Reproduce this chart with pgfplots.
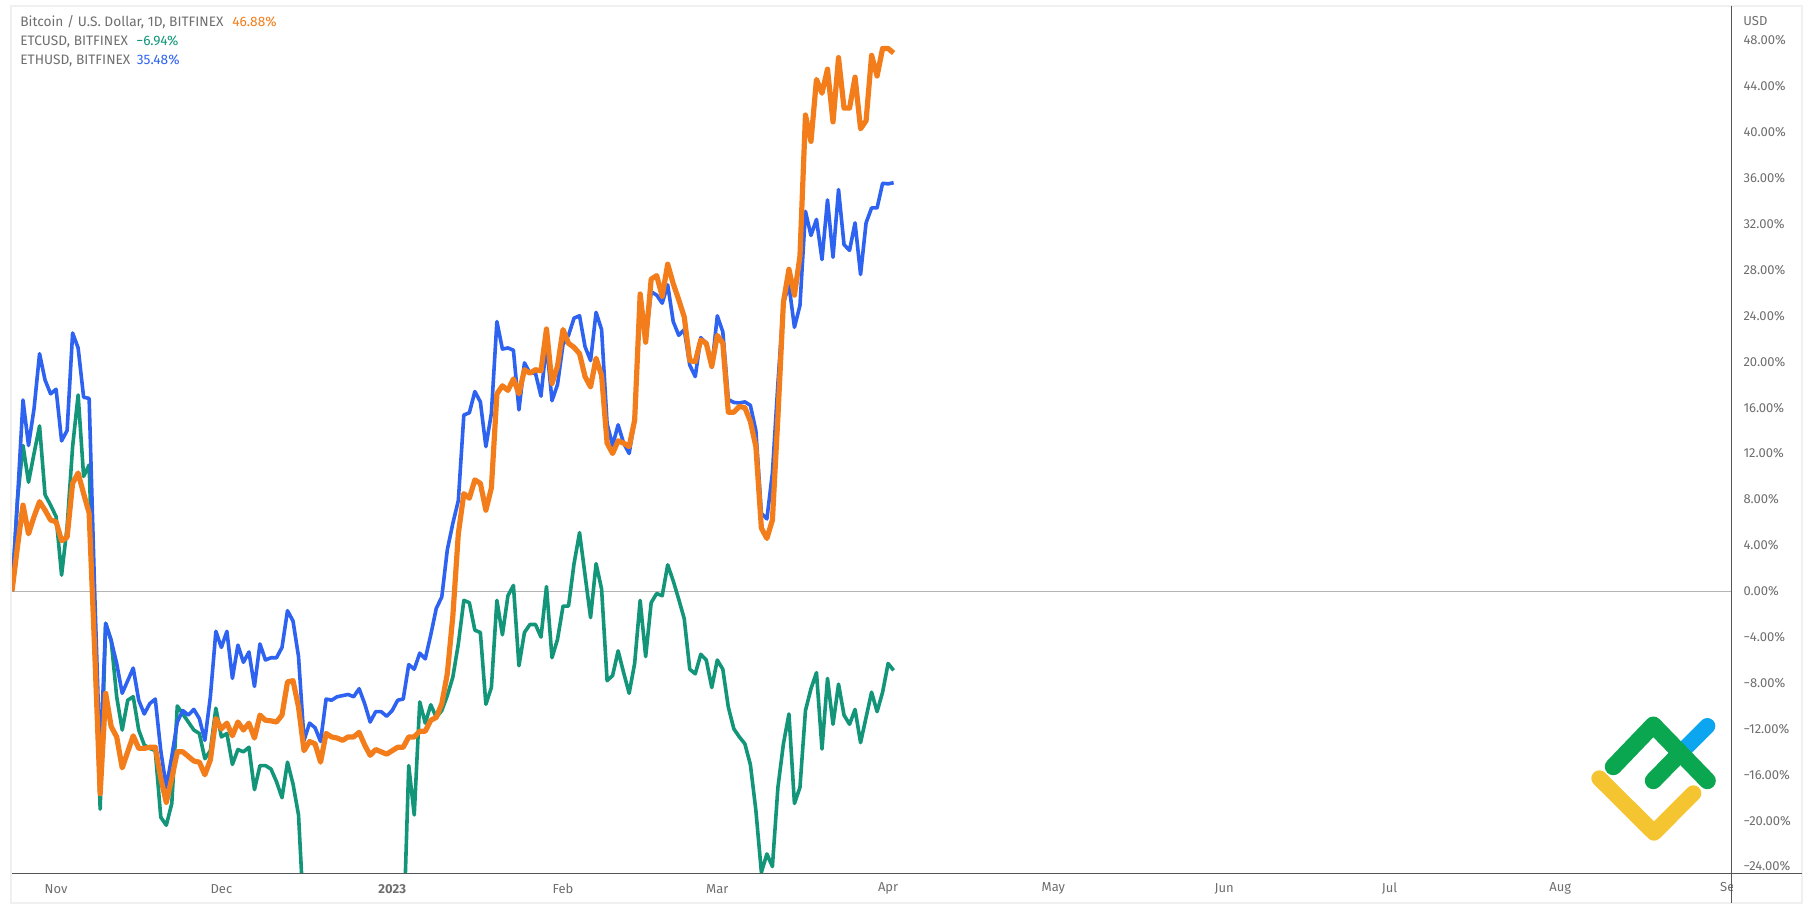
\documentclass[border=0pt]{standalone}
\usepackage{fontspec}
\setmainfont{Fira Sans}
\usepackage{pgfplots}
\usepackage{pgfplotstable}
\pgfplotsset{compat=1.18}
\definecolor{cbtc}{HTML}{F27D1A}
\definecolor{cetc}{HTML}{129579}
\definecolor{ceth}{HTML}{2E62F0}
\definecolor{ctxt}{HTML}{6E6E6E}
\definecolor{cframe}{HTML}{F0F0F0}
\definecolor{caxis}{HTML}{555555}
\definecolor{czero}{HTML}{B4B4B4}
\definecolor{lgy}{HTML}{F5C431}
\definecolor{lgg}{HTML}{0BA650}
\definecolor{lgb}{HTML}{0BA5F0}
\pgfplotstableread{
i btc etc eth
0 0 0 0
1 3.9 8 8
2 7.5 12.7 16.66
3 5.0 9.5 12.7
4 6.5 12.0 15.9
5 7.8 14.4 20.7
6 7.06 8.4 18.4
7 6.2 7.5 17.2
8 6.05 6.5 17.6
9 4.4 1.4 13.1
10 4.7 5.6 14.0
11 9.4 12.6 22.5
12 10.3 17.1 21.2
13 8.5 10.0 16.9
14 6.8 11.0 16.8
15 -5.1 -4.0 0
16 -17.65 -19.0 -15
17 -8.9 -2.8 -2.8
18 -11.8 -4.3 -4.3
19 -12.7 -9.2 -6.3
20 -15.4 -12.1 -8.9
21 -14.0 -9.5 -7.8
22 -12.6 -9.2 -6.7
23 -13.7 -12.1 -9.5
24 -13.7 -13.4 -10.7
25 -13.6 -13.7 -9.8
26 -13.6 -13.9 -9.4
27 -16.3 -19.7 -13.9
28 -18.4 -20.4 -17.1
29 -16.3 -18.5 -14.4
30 -14.0 -10.0 -11.4
31 -14.0 -10.7 -10.4
32 -14.4 -11.4 -10.8
33 -14.8 -12.1 -10.3
34 -14.9 -12.4 -11.1
35 -16.0 -14.6 -13.0
36 -14.7 -13.9 -9.2
37 -11.1 -10.2 -3.5
38 -12.0 -12.7 -4.9
39 -11.5 -12.4 -3.5
40 -12.6 -15.1 -7.6
41 -11.4 -13.8 -4.7
42 -12.1 -14.0 -6.2
43 -11.5 -13.6 -5.3
44 -12.8 -17.3 -8.3
45 -10.8 -15.2 -4.6
46 -11.25 -15.2 -6.0
47 -11.3 -15.5 -5.8
48 -11.4 -16.6 -5.8
49 -10.8 -18.0 -4.9
50 -7.9 -14.9 -1.7
51 -7.8 -16.8 -2.6
52 -10.1 -19.5 -5.7
53 -13.9 -28.8 -13.0
54 -13.1 -30 -11.5
55 -13.3 -30 -11.9
56 -14.9 -30 -13.1
57 -12.4 -30 -9.4
58 -12.7 -30 -9.5
59 -12.8 -30 -9.2
60 -13.0 -30 -9.1
61 -12.7 -30 -9.0
62 -12.7 -30 -9.2
63 -12.3 -30 -8.5
64 -13.4 -30 -9.8
65 -14.3 -30 -11.4
66 -13.8 -30 -10.5
67 -14.0 -30 -10.5
68 -14.2 -30 -10.9
69 -13.9 -30 -10.4
70 -13.6 -30 -9.5
71 -13.6 -30.7 -9.4
72 -12.7 -15.2 -6.4
73 -12.7 -19.5 -6.8
74 -12.2 -9.65 -5.4
75 -12.2 -11.5 -5.9
76 -11.25 -9.9 -3.8
77 -11.0 -11.0 -1.5
78 -9.8 -10.4 -0.5
79 -7.2 -9.1 3.6
80 -2.2 -7.5 5.9
81 5.0 -4.6 7.9
82 8.5 -0.8 15.35
83 8.1 -1.0 15.55
84 9.7 -3.4 17.4
85 9.4 -3.6 16.5
86 7.06 -9.85 12.6
87 9.0 -8.4 15.5
88 17.2 -0.8 23.5
89 17.9 -3.8 21.1
90 17.5 -0.4 21.2
91 18.5 0.5 21.0
92 17.2 -6.5 15.8
93 19.3 -3.6 19.9
94 19.0 -2.9 19.0
95 19.3 -2.9 19.0
96 19.2 -4.0 17.0
97 22.85 0.4 21.6
98 18.1 -5.8 16.6
99 19.6 -4.2 18.0
100 22.8 -1.3 21.5
101 21.6 -1.3 22.3
102 21.25 2.4 23.8
103 20.7 5.1 24.0
104 18.7 1.4 21.3
105 17.8 -2.3 20.1
106 20.3 2.4 24.3
107 18.8 0.2 22.8
108 12.9 -7.8 14.6
109 12.0 -7.35 12.7
110 13.1 -5.2 14.5
111 12.9 -7.1 12.9
112 12.6 -8.9 12.0
113 14.9 -6.3 14.9
114 25.9 -0.8 25.7
115 21.7 -5.7 21.9
116 27.2 -1.0 26.1
117 27.5 -0.2 25.8
118 25.7 -0.4 25.1
119 28.5 2.3 26.7
120 26.8 0.9 23.5
121 25.4 -0.7 22.3
122 23.9 -2.4 22.8
123 20.1 -6.8 19.7
124 20.0 -7.2 18.7
125 21.9 -5.5 22.1
126 21.6 -6.0 21.6
127 19.6 -8.4 19.5
128 22.3 -6.0 24.0
129 21.6 -6.8 22.6
130 15.6 -10.1 16.7
131 15.6 -12.0 16.45
132 16.1 -12.7 16.4
133 16.0 -13.3 16.5
134 14.8 -15.1 16.2
135 12.6 -19.1 14.0
136 5.5 -24.5 6.8
137 4.6 -22.9 6.3
138 6.2 -24.0 10.3
139 15.2 -17.1 18.1
140 25.2 -13.3 25.1
141 28.05 -10.7 26.7
142 25.8 -18.5 23.0
143 29.2 -17.1 24.9
144 41.5 -10.4 33.1
145 39.2 -8.5 31.0
146 44.6 -7.1 32.4
147 43.4 -13.75 28.9
148 45.5 -7.6 34.1
149 40.9 -11.6 29.1
150 46.5 -8.1 35.0
151 42.1 -10.8 30.2
152 42.1 -11.6 29.7
153 44.8 -10.3 32.1
154 40.3 -13.2 27.6
155 41.0 -11.0 32.1
156 46.7 -8.8 33.4
157 44.9 -10.5 33.4
158 47.3 -8.8 35.55
159 47.3 -6.3 35.5
160 46.9 -6.9 35.6
}\data
\newcommand{\tfont}{\fontsize{6.5pt}{7.5pt}\selectfont}
\newcommand{\lfont}{\fontsize{6.85pt}{8pt}\selectfont}
\begin{document}
\begin{tikzpicture}
\useasboundingbox (0,0) rectangle (906.5pt,455pt);
\begin{axis}[
  at={(6pt,18.5pt)}, anchor=south west,
  scale only axis, width=859.85pt, height=433.5pt,
  xmin=0, xmax=312.1, ymin=-24.56, ymax=51,
  axis line style={draw=none},
  tick style={draw=none},
  xtick={8,38,69,100,128,159,189,220,250,281,312},
  xticklabels={Nov,Dec,\textbf{2023},Feb,Mar,Apr,May,Jun,Jul,Aug,Sep},
  ytick={-24,-20,-16,-12,-8,-4,0,4,8,12,16,20,24,28,32,36,40,44,48},
  yticklabels={−24.00\%,−20.00\%,−16.00\%,−12.00\%,−8.00\%,−4.00\%,0.00\%,4.00\%,8.00\%,12.00\%,16.00\%,20.00\%,24.00\%,28.00\%,32.00\%,36.00\%,40.00\%,44.00\%,48.00\%},
  yticklabel pos=right,
  every tick label/.append style={font=\tfont, text=ctxt, inner sep=0pt},
  yticklabel style={anchor=west, xshift=5.7pt},
  xticklabel style={anchor=center, yshift=-7.9pt},
  x tick label style={anchor=center},
  line join=round,
]
\addplot[czero, line width=0.5pt] coordinates {(0,0) (312.1,0)};
\addplot[cetc, line width=1.8pt] table[x=i, y=etc] {\data};
\addplot[ceth, line width=1.8pt] table[x=i, y=eth] {\data};
\addplot[cbtc, line width=2.6pt] table[x=i, y=btc] {\data};
\end{axis}
\begin{scope}[shift={(0,455pt)}, x=0.5pt, y=-0.5pt]
  % cover of the price panel's foot
  \fill[white] (1732.5,874) rectangle (1801,902);
  % frame
  \draw[cframe, line width=1pt] (11,6) rectangle (1802,903);
  \draw[caxis, line width=0.5pt] (12,873) -- (1802,873);
  \draw[caxis, line width=0.5pt] (1731.7,6) -- (1731.7,903);
  % legend
  \node[anchor=base west, inner sep=0, text=ctxt, font=\lfont] at (20,27) {Bitcoin / U.S. Dollar, 1D, BITFINEX};
  \node[anchor=base west, inner sep=0, text=cbtc, font=\lfont] at (232,27) {46.88\%};
  \node[anchor=base west, inner sep=0, text=ctxt, font=\lfont] at (20,46) {ETCUSD, BITFINEX};
  \node[anchor=base west, inner sep=0, text=cetc, font=\lfont] at (136,46) {−6.94\%};
  \node[anchor=base west, inner sep=0, text=ctxt, font=\lfont] at (20,65) {ETHUSD, BITFINEX};
  \node[anchor=base west, inner sep=0, text=ceth, font=\lfont] at (136.5,65) {35.48\%};
  \node[anchor=base west, inner sep=0, text=ctxt, font=\tfont] at (1743,26) {USD};
  % logo
  \draw[lgb, line width=8pt, line cap=round] (1686.7,746.7) -- (1707.3,726);
  \draw[lgy, line width=8pt, line cap=round, line join=round] (1599.3,778.3) -- (1654,832.7) -- (1693.3,793.3);
  \draw[lgg, line width=8.5pt, line cap=round, line join=round] (1613.3,766.7) -- (1653.3,725) -- (1707.3,780.7);
  \draw[lgg, line width=8.5pt, line cap=round] (1653.3,780.7) -- (1680,753.3);
\end{scope}
\end{tikzpicture}
\end{document}
